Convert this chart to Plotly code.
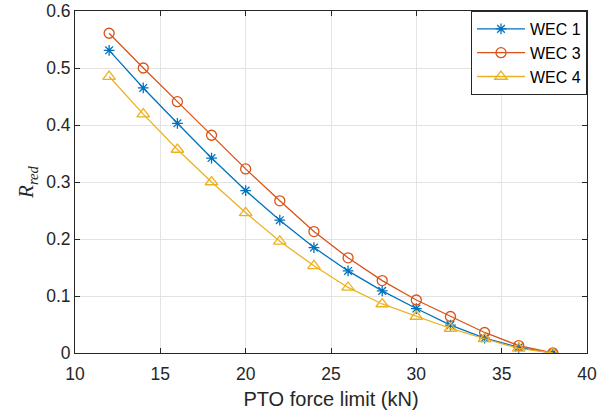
import plotly.graph_objects as go

force = [12, 14, 16, 18, 20, 22, 24, 26, 28, 30, 32, 34, 36, 38]
wec1 = [0.531, 0.465, 0.403, 0.342, 0.285, 0.233, 0.185, 0.144, 0.109, 0.078, 0.049, 0.026, 0.010, 0.0]
wec3 = [0.561, 0.500, 0.441, 0.382, 0.323, 0.267, 0.213, 0.167, 0.127, 0.093, 0.064, 0.036, 0.013, 0.0]
wec4 = [0.485, 0.419, 0.357, 0.300, 0.246, 0.196, 0.153, 0.115, 0.086, 0.064, 0.043, 0.025, 0.008, 0.0]

series = [
    ("WEC 1", wec1, "#0072BD", "asterisk-open", 9),
    ("WEC 3", wec3, "#D95319", "circle-open", 10),
    ("WEC 4", wec4, "#EDB120", "triangle-up-open", 11),
]

fig = go.Figure()
for name, vals, color, sym, size in series:
    fig.add_trace(go.Scatter(
        x=force, y=vals, name=name, mode="lines+markers",
        line=dict(color=color, width=1.3),
        marker=dict(symbol=sym, size=size, color=color, line=dict(width=1.3, color=color)),
    ))

axis_common = dict(
    showgrid=True, gridcolor="#e3e3e3", gridwidth=1,
    showline=True, linecolor="#262626", linewidth=1, mirror="ticks",
    ticks="inside", ticklen=5, tickcolor="#262626",
    tickfont=dict(family="Liberation Sans, Arial, sans-serif", size=17.5, color="#262626"),
    zeroline=False, automargin=False,
)

fig.update_layout(
    width=615, height=417,
    margin=dict(l=75, r=28, t=11, b=64),
    paper_bgcolor="white", plot_bgcolor="white",
    xaxis=dict(range=[10, 40], tickvals=[10, 15, 20, 25, 30, 35, 40],
               ticklabelstandoff=5,
               title=dict(text="PTO force limit (kN)", standoff=8,
                          font=dict(family="Liberation Sans, Arial, sans-serif", size=20, color="#262626")),
               **axis_common),
    yaxis=dict(range=[0, 0.6], tickvals=[0, 0.1, 0.2, 0.3, 0.4, 0.5, 0.6],
               ticktext=["0", "0.1", "0.2", "0.3", "0.4", "0.5", "0.6"],
               title=dict(text="<i>R</i><sub><i>red</i></sub>", standoff=6,
                          font=dict(family="Liberation Serif, DejaVu Serif, serif", size=21, color="#262626")),
               **axis_common),
    legend=dict(x=1, y=1, xanchor="right", yanchor="top",
                bgcolor="white", bordercolor="#262626", borderwidth=1,
                font=dict(family="Liberation Sans, Arial, sans-serif", size=16, color="black"),
                tracegroupgap=0, itemwidth=48),
    showlegend=True,
)

fig.write_html("out.html")
